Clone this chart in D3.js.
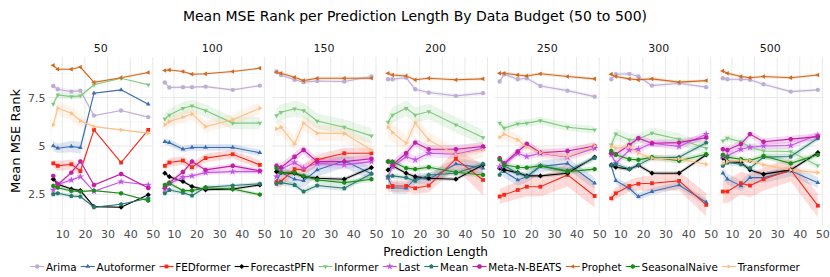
<!DOCTYPE html>
<html><head><meta charset="utf-8">
<script src="https://cdn.jsdelivr.net/npm/d3@7"></script>
<style>body{margin:0;background:#fff} svg{display:block} text{font-family:"DejaVu Sans",sans-serif}</style>
</head><body><svg id="c" width="830" height="277"></svg>
<script>
// ---------------- data ----------------
const budgets = ["50", "100", "150", "200", "250", "300", "500"];
const predictionLengths = [6, 8, 14, 18, 24, 36, 48];
const models = ["Arima", "Autoformer", "FEDformer", "ForecastPFN", "Informer", "Last", "Mean", "Meta-N-BEATS", "Prophet", "SeasonalNaive", "Transformer"];
const modelColors = ["#beaed4", "#386cb0", "#f8291b", "#000000", "#7fc97f", "#c653e8", "#287a70", "#c21fa6", "#d2691e", "#1a8c1a", "#fdc086"];
const modelShapes = ["o", "^", "s", "D", "v", "*", "p", "8", "<", "h", ">"];
const yTicks = [2.5, 5, 7.5];
const xTicks = [10, 20, 30, 40, 50];

// mean rank, one row per budget (columns follow predictionLengths)
const arima = [
  [8.1, 7.93, 7.81, 7.86, 6.57, 6.83, 6.49],
  [8.28, 8.02, 8.04, 8.04, 8.07, 7.9, 8.12],
  [8.85, 8.67, 8.42, 8.3, 8.36, 8.33, 8.59],
  [8.45, 8.45, 8.53, 7.93, 7.76, 7.59, 7.73],
  [8.33, 8.71, 8.45, 8.5, 8.1, 7.86, 7.55],
  [8.45, 8.71, 8.73, 8.59, 8.12, 8.24, 8.04],
  [8.5, 8.45, 8.45, 8.42, 8.19, 7.81, 7.9]];
const autoformer = [
  [5.0, 4.88, 4.97, 4.91, 7.73, 7.9, 7.16],
  [5.22, 5.17, 4.83, 4.92, 4.92, 4.92, 4.65],
  [3.16, 3.62, 3.28, 3.2, 3.76, 4.23, 3.56],
  [3.33, 2.84, 2.81, 3.33, 3.28, 4.07, 3.85],
  [3.9, 3.67, 3.24, 3.41, 3.93, 4.1, 3.07],
  [3.97, 3.2, 2.81, 2.38, 2.64, 2.98, 2.09],
  [3.59, 3.28, 2.93, 3.36, 3.36, 3.71, 3.1]];
const fedformer = [
  [4.1, 3.97, 4.05, 3.7, 5.83, 4.14, 5.83],
  [3.97, 4.14, 4.24, 3.9, 4.37, 4.57, 4.02],
  [3.12, 3.16, 3.8, 3.76, 4.28, 4.62, 4.62],
  [2.89, 2.93, 2.93, 2.81, 2.95, 4.33, 3.24],
  [2.38, 2.47, 2.72, 2.89, 2.89, 3.5, 2.41],
  [2.29, 2.55, 2.93, 3.04, 3.07, 3.19, 1.95],
  [2.64, 2.64, 3.07, 2.95, 3.28, 3.76, 1.91]];
const forecastPFN = [
  [3.28, 3.02, 2.77, 2.69, 1.86, 1.83, 2.47],
  [3.59, 3.41, 3.16, 2.9, 2.73, 2.77, 2.98],
  [3.67, 3.62, 3.59, 3.41, 3.33, 3.28, 3.88],
  [3.76, 3.97, 3.59, 3.41, 3.33, 3.28, 4.02],
  [3.85, 3.76, 3.62, 3.45, 3.45, 3.59, 4.42],
  [4.02, 3.9, 3.8, 4.0, 3.59, 3.59, 4.54],
  [4.37, 4.19, 4.14, 3.76, 3.54, 3.76, 4.65]];
const informer = [
  [7.17, 7.64, 7.55, 7.59, 8.16, 8.5, 8.16],
  [6.4, 6.6, 6.95, 7.07, 6.83, 6.18, 6.18],
  [6.57, 6.74, 6.92, 6.83, 6.29, 5.97, 5.52],
  [6.23, 6.6, 6.95, 6.6, 6.78, 6.09, 5.43],
  [6.18, 5.92, 6.14, 6.18, 6.31, 5.97, 5.83],
  [5.05, 5.62, 5.31, 5.36, 5.66, 5.35, 4.88],
  [5.26, 5.4, 5.22, 4.93, 4.74, 4.71, 3.98]];
const last = [
  [2.72, 3.0, 3.24, 3.41, 2.65, 3.15, 2.98],
  [2.75, 3.05, 3.38, 3.45, 3.62, 3.67, 3.67],
  [3.41, 3.8, 4.14, 3.85, 4.1, 4.02, 4.19],
  [3.4, 3.93, 4.45, 4.28, 4.62, 4.57, 4.88],
  [3.93, 4.05, 4.62, 4.45, 4.62, 4.42, 4.88],
  [4.55, 4.1, 4.79, 4.83, 5.14, 4.97, 5.61],
  [4.45, 4.5, 4.83, 4.93, 5.0, 5.02, 5.57]];
const meanModel = [
  [2.5, 2.55, 2.41, 2.38, 1.83, 1.98, 2.29],
  [2.55, 2.72, 2.58, 2.43, 2.86, 2.95, 3.04],
  [3.04, 3.1, 2.98, 2.64, 2.95, 2.81, 3.56],
  [3.41, 3.45, 3.36, 3.19, 3.5, 3.59, 4.07],
  [3.5, 3.97, 3.59, 3.41, 3.97, 3.72, 4.37],
  [4.02, 4.05, 3.8, 4.02, 4.37, 4.42, 5.17],
  [3.97, 4.14, 4.05, 3.85, 4.42, 4.45, 5.4]];
const metaNBeats = [
  [3.45, 3.0, 3.62, 4.2, 2.98, 3.55, 2.82],
  [2.85, 3.1, 3.65, 4.19, 3.76, 3.97, 3.71],
  [3.97, 3.88, 4.44, 4.79, 4.19, 4.19, 4.34],
  [4.19, 4.02, 4.62, 5.17, 4.83, 4.83, 4.97],
  [4.37, 4.1, 4.71, 5.1, 4.65, 4.74, 5.0],
  [4.62, 4.57, 5.05, 5.4, 5.14, 5.17, 5.43],
  [4.83, 4.79, 5.1, 5.61, 5.22, 5.35, 5.48]];
const prophet = [
  [9.17, 8.97, 8.97, 9.08, 8.29, 8.53, 8.8],
  [8.9, 8.93, 8.85, 8.71, 8.73, 8.85, 9.02],
  [8.81, 8.76, 8.55, 8.38, 8.5, 8.5, 8.5],
  [8.76, 8.67, 8.62, 8.42, 8.5, 8.42, 8.47],
  [8.76, 8.76, 8.67, 8.62, 8.73, 8.59, 8.47],
  [8.71, 8.59, 8.47, 8.42, 8.47, 8.3, 8.38],
  [8.88, 8.76, 8.59, 8.53, 8.59, 8.53, 8.67]];
const seasonalNaive = [
  [2.93, 2.84, 2.67, 2.64, 2.69, 2.55, 2.17],
  [2.98, 3.07, 2.69, 2.69, 2.84, 2.77, 2.48],
  [3.85, 3.62, 3.62, 3.45, 3.24, 3.1, 3.28],
  [4.19, 4.19, 3.85, 3.8, 3.9, 3.64, 3.5],
  [4.3, 4.02, 3.9, 3.88, 3.97, 3.67, 3.8],
  [4.74, 4.54, 4.31, 4.28, 4.42, 4.23, 4.57],
  [4.54, 4.42, 4.31, 4.24, 4.48, 4.1, 4.54]];
const transformer = [
  [6.09, 6.95, 6.69, 6.3, 6.0, 5.83, 5.66],
  [6.09, 6.26, 6.49, 6.66, 6.0, 6.35, 6.95],
  [5.88, 5.97, 5.1, 6.18, 5.66, 5.64, 4.79],
  [5.97, 5.69, 5.14, 6.18, 5.31, 4.54, 4.79],
  [5.45, 5.61, 5.31, 4.93, 4.65, 4.45, 5.0],
  [4.97, 4.88, 4.97, 4.62, 4.37, 4.33, 4.05],
  [4.1, 4.2, 4.25, 4.24, 4.02, 3.76, 3.62]];

// half-width of the shaded interval, per budget: a single number (same for all lengths) or one per length
const bandArima = [[.15, .15, .12, .12, .03, .03, .03], .07, .09, .11, .1, .1, .09];
const bandAutoformer = [[.25, .25, .3, .3, .03, .03, .03], .17, .35, .3, .3, .18, .28];
const bandFedformer = [[.2, .25, .25, .25, .03, .03, .03], .22, .28, [.3, .3, .3, .3, .35, .5, .8], [.4, .4, .45, .5, .5, .6, .6], [.25, .3, .3, .35, .4, .5, .6], .6];
const bandForecastPFN = [[.1, .1, .08, .08, .03, .03, .03], .08, .1, .1, .1, .1, .1];
const bandInformer = [[.15, .15, .15, .15, .03, .03, .03], .32, .4, .4, .2, .3, .2];
const bandLast = [[.1, .1, .1, .1, .03, .03, .03], .12, .22, .22, .18, .18, .18];
const bandMean = [[.1, .1, .1, .1, .03, .03, .03], .1, .14, .14, .14, .14, .14];
const bandMeta = [[.1, .1, .1, .1, .03, .03, .03], .12, .22, .22, .18, .18, .18];
const bandProphet = [.05, .05, .08, .08, .08, .08, .08];
const bandSeasonal = [[.08, .08, .08, .08, .03, .03, .03], .1, .14, .14, .14, .14, .14];
const bandTransformer = [[.35, .35, .35, .35, .03, .03, .03], .3, .4, [.6, .5, .4, .4, .4, .4, .4], .3, .2, .15];

const seriesValues = [arima, autoformer, fedformer, forecastPFN, informer, last, meanModel, metaNBeats, prophet, seasonalNaive, transformer];
const seriesBands = [bandArima, bandAutoformer, bandFedformer, bandForecastPFN, bandInformer, bandLast, bandMean, bandMeta, bandProphet, bandSeasonal, bandTransformer];

// ---------------- layout ----------------
const svg = d3.select("#c");
const panelLeft0 = 48.5, panelW = 104.5, panelStep = 111.6, panelTop = 57, panelBottom = 225;
const y = d3.scaleLinear().domain([0.91, 9.6]).range([panelBottom, panelTop]);
const xDomain = [3.9, 50.1];

function polyPath(n, r, rot) {
  const pts = d3.range(n).map(i => {
    const a = rot + i * 2 * Math.PI / n;
    return [r * Math.cos(a), r * Math.sin(a)];
  });
  return "M" + pts.map(p => p[0].toFixed(2) + "," + p[1].toFixed(2)).join("L") + "Z";
}
function shapePath(s) {
  const r = 2.4;
  switch (s) {
    case "o": return d3.symbol(d3.symbolCircle, 15)();
    case "^": return polyPath(3, r + 0.3, -Math.PI / 2);
    case "v": return polyPath(3, r + 0.3, Math.PI / 2);
    case "<": return polyPath(3, r + 0.3, Math.PI);
    case ">": return polyPath(3, r + 0.3, 0);
    case "s": return polyPath(4, r + 0.3, Math.PI / 4);
    case "D": return polyPath(4, r + 0.2, 0);
    case "*": return d3.symbol(d3.symbolStar, 16)();
    case "p": return polyPath(5, r, -Math.PI / 2);
    case "8": return polyPath(8, r, Math.PI / 8);
    case "h": return polyPath(6, r, -Math.PI / 2);
  }
}

// title
svg.append("text").attr("x", 415).attr("y", 20.5).attr("text-anchor", "middle")
  .attr("font-size", 14).attr("fill", "#000")
  .text("Mean MSE Rank per Prediction Length By Data Budget (50 to 500)");

const bandLayer = [], lineLayer = [], pointLayer = [];

budgets.forEach((b, bi) => {
  const left = panelLeft0 + bi * panelStep;
  const x = d3.scaleLinear().domain(xDomain).range([left, left + panelW]);
  const g = svg.append("g");
  // grid
  const minorX = [5, 15, 25, 35, 45], minorY = [1.25, 3.75, 6.25, 8.75];
  g.selectAll(".mx").data(minorX).join("line")
    .attr("x1", d => x(d)).attr("x2", d => x(d)).attr("y1", panelTop).attr("y2", panelBottom)
    .attr("stroke", "#f2f2f2").attr("stroke-width", 0.6);
  g.selectAll(".my").data(minorY).join("line")
    .attr("x1", left).attr("x2", left + panelW).attr("y1", d => y(d)).attr("y2", d => y(d))
    .attr("stroke", "#f2f2f2").attr("stroke-width", 0.6);
  g.selectAll(".Mx").data(xTicks).join("line")
    .attr("x1", d => x(d)).attr("x2", d => x(d)).attr("y1", panelTop).attr("y2", panelBottom)
    .attr("stroke", "#e8e8e8").attr("stroke-width", 1);
  g.selectAll(".My").data(yTicks).join("line")
    .attr("x1", left).attr("x2", left + panelW).attr("y1", d => y(d)).attr("y2", d => y(d))
    .attr("stroke", "#e8e8e8").attr("stroke-width", 1);

  // strip label
  svg.append("text").attr("x", left + panelW / 2).attr("y", 52).attr("text-anchor", "middle")
    .attr("font-size", 11).attr("fill", "#1a1a1a").text(b);

  // x axis
  const ax = svg.append("g").attr("transform", `translate(0,${panelBottom})`)
    .call(d3.axisBottom(x).tickValues(xTicks).tickSize(0).tickPadding(5).tickFormat(d3.format("d")));
  ax.select(".domain").remove();
  ax.selectAll("text").attr("font-size", 11).attr("fill", "#4d4d4d").attr("font-family", "DejaVu Sans");

  if (bi === 0) {
    const ay = svg.append("g").attr("transform", `translate(${left},0)`)
      .call(d3.axisLeft(y).tickValues(yTicks).tickSize(0).tickPadding(3).tickFormat(d3.format("~g")));
    ay.select(".domain").remove();
    ay.selectAll("text").attr("font-size", 11).attr("fill", "#4d4d4d").attr("font-family", "DejaVu Sans");
  }

  models.forEach((m, mi) => {
    const vals = seriesValues[mi][bi];
    const bw = seriesBands[mi][bi];
    const pts = predictionLengths.map((pl, k) => ({
      pl, v: vals[k], h: Array.isArray(bw) ? bw[k] : bw
    }));
    bandLayer.push({ x, pts, color: modelColors[mi] });
    lineLayer.push({ x, pts, color: modelColors[mi] });
    pointLayer.push({ x, pts, color: modelColors[mi], shape: modelShapes[mi] });
  });
});

const gb = svg.append("g"), gl = svg.append("g"), gp = svg.append("g");
bandLayer.forEach(s => {
  const area = d3.area().x(d => s.x(d.pl)).y0(d => y(d.v - d.h)).y1(d => y(d.v + d.h));
  gb.append("path").attr("d", area(s.pts)).attr("fill", s.color).attr("fill-opacity", 0.17);
});
lineLayer.forEach(s => {
  const line = d3.line().x(d => s.x(d.pl)).y(d => y(d.v));
  gl.append("path").attr("d", line(s.pts)).attr("fill", "none").attr("stroke", s.color).attr("stroke-width", 1.1);
});
pointLayer.forEach(s => {
  gp.selectAll(null).data(s.pts).join("path")
    .attr("transform", d => `translate(${s.x(d.pl)},${y(d.v)})`)
    .attr("d", shapePath(s.shape)).attr("fill", s.color);
});

// axis titles
svg.append("text").attr("transform", `translate(15,${(panelTop + panelBottom) / 2}) rotate(-90)`)
  .attr("text-anchor", "middle").attr("dominant-baseline", "central")
  .attr("font-size", 13).attr("fill", "#000").text("Mean MSE Rank");
svg.append("text").attr("x", panelLeft0 + (6 * panelStep + panelW) / 2).attr("y", 256)
  .attr("text-anchor", "middle").attr("font-size", 12).attr("fill", "#000").text("Prediction Length");

// legend
const lg = svg.append("g");
const keyW = 14, keyGap = 1.8, itemGap = 4.2, legY = 266.5;
let cx = 0;
models.forEach((m, mi) => {
  const it = lg.append("g");
  it.append("line").attr("x1", 0).attr("x2", keyW).attr("y1", 0).attr("y2", 0)
    .attr("stroke", modelColors[mi]).attr("stroke-width", 1.1);
  it.append("path").attr("transform", `translate(${keyW / 2},0)`).attr("d", shapePath(modelShapes[mi])).attr("fill", modelColors[mi]);
  const t = it.append("text").attr("x", keyW + keyGap).attr("y", 0).attr("dominant-baseline", "central")
    .attr("font-size", 10.35).attr("fill", "#000").text(m);
  const w = keyW + keyGap + t.node().getComputedTextLength();
  it.attr("transform", `translate(${cx},${legY})`);
  cx += w + itemGap;
});
const total = cx - itemGap;
lg.attr("transform", `translate(${415 - total / 2},0)`);
</script></body></html>
